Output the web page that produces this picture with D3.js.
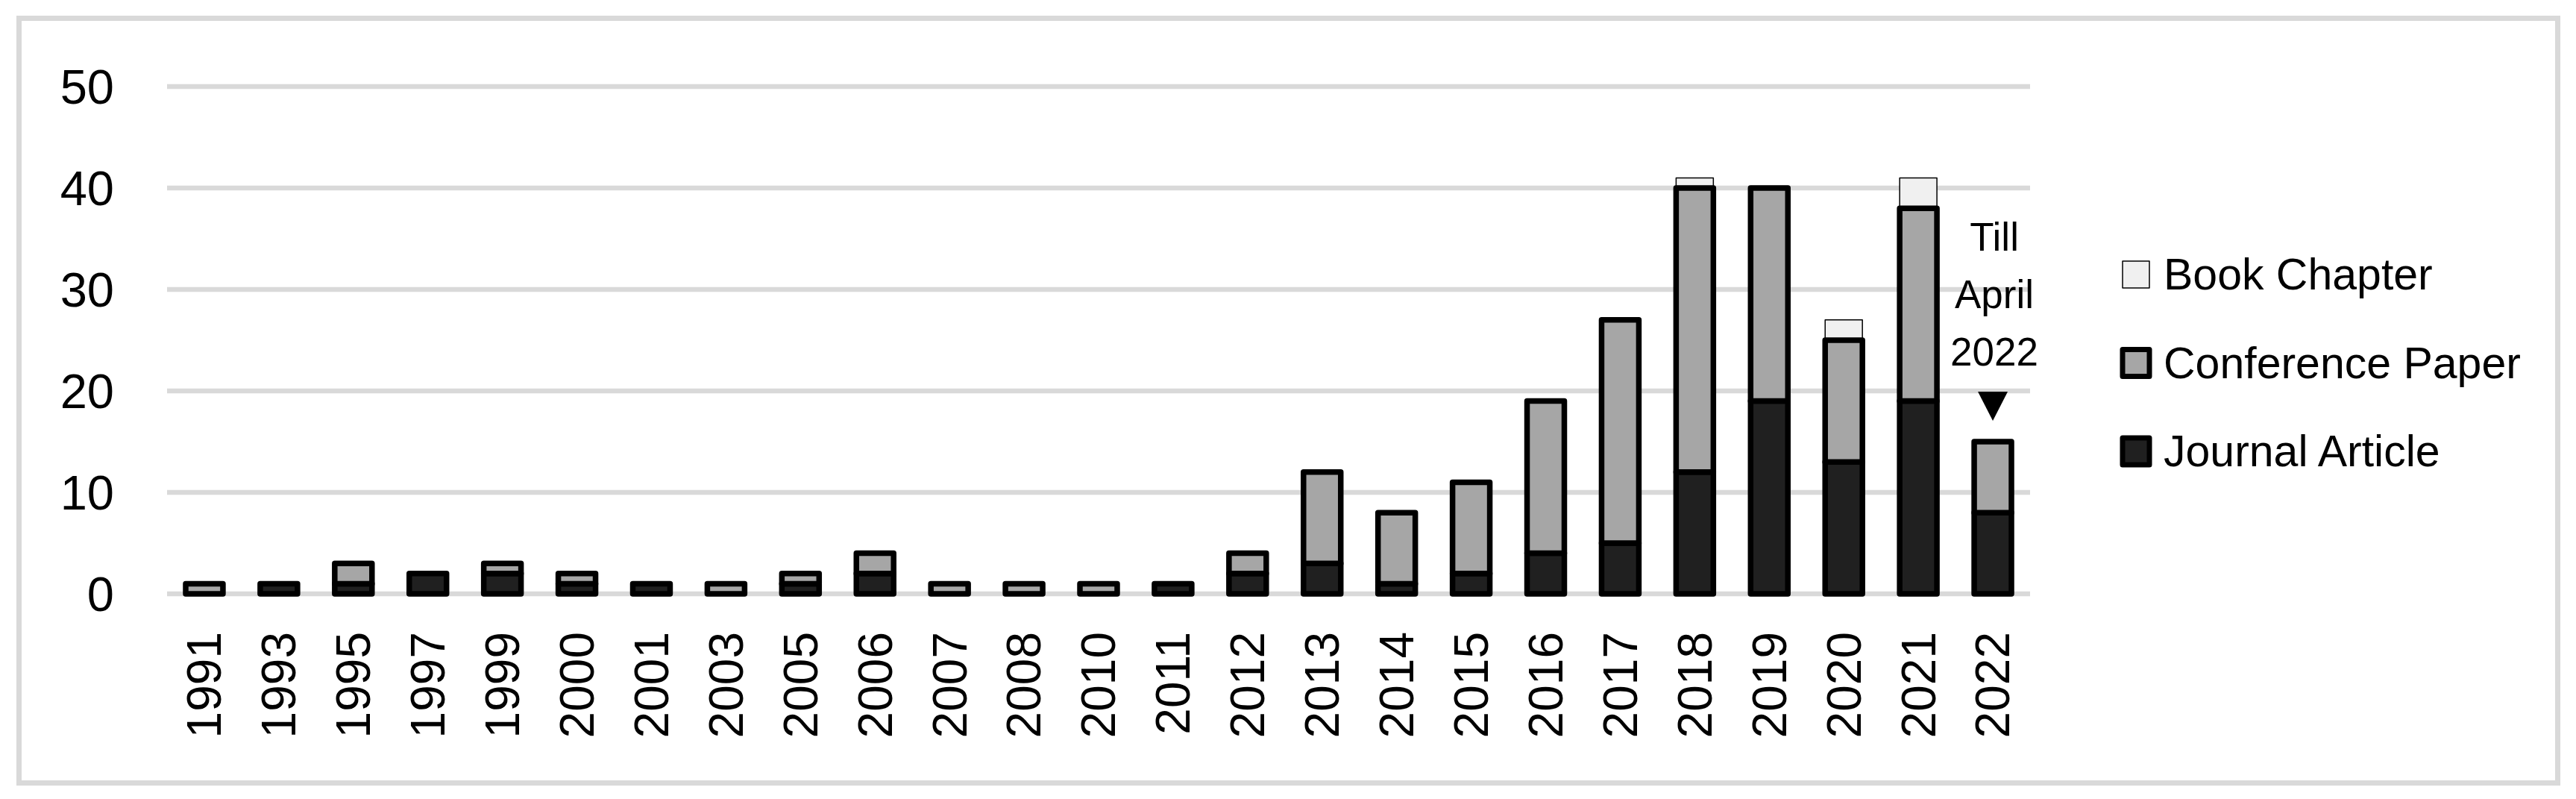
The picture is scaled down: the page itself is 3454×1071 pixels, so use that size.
<!DOCTYPE html>
<html>
<head>
<meta charset="utf-8">
<script src="https://cdn.jsdelivr.net/npm/d3@7"></script>
<style>
  body { margin: 0; background: #fff; }
  text { font-family: "Liberation Sans", Arial, sans-serif; fill: #000; }
</style>
</head>
<body>
<div id="chart"></div>
<script>
var years = ["1991","1993","1995","1997","1999","2000","2001","2003","2005","2006","2007","2008","2010","2011","2012","2013","2014","2015","2016","2017","2018","2019","2020","2021","2022"];
var journal    = [0,1,1,2,2,1,1,0,1,2,0,0,0,1,2,3,1,2,4,5,12,19,13,19,8];
var conference = [1,0,2,0,1,1,0,1,1,2,1,1,1,0,2,9,7,9,15,22,28,21,12,19,7];
var book       = [0,0,0,0,0,0,0,0,0,0,0,0,0,0,0,0,0,0,0,0,1,0,2,3,0];
var seriesNames = ["Journal Article","Conference Paper","Book Chapter"];
var yTicks = [0,10,20,30,40,50];
var noteLines = ["Till","April","2022"];

(function () {
var width = 3454, height = 1071;

var svg = d3.select("#chart")
.append("svg")
.attr("width", width)
.attr("height", height)

// outer frame
svg.append("rect")
.attr("x", 25.5).attr("y", 24.5)
.attr("width", 3404).attr("height", 1025)
.attr("fill", "none")
.attr("stroke", "#d9d9d9")
.attr("stroke-width", 7)

var x = d3.scaleBand().domain(years).range([224, 2722]).paddingInner(0.5).paddingOuter(0.25)
var y = d3.scaleLinear().domain([0, 50]).range([796, 116])

// gridlines
svg.selectAll(".grid")
.data(yTicks)
.enter().append("line")
.attr("class", "grid")
.attr("x1", 224).attr("x2", 2722)
.attr("y1", function(d){ return y(d) })
.attr("y2", function(d){ return y(d) })
.attr("stroke", "#d9d9d9")
.attr("stroke-width", 6.5)

svg.selectAll(".ylab")
.data(yTicks)
.enter().append("text")
.attr("class", "ylab")
.attr("x", 153)
.attr("y", function(d){ return y(d) })
.attr("dy", "0.35em")
.attr("text-anchor", "end")
.attr("font-size", 65)
.text(function(d){ return d })

var rows = years.map(function(yr, i){
	return { year: yr, "Journal Article": journal[i], "Conference Paper": conference[i], "Book Chapter": book[i] }
})
var stacked = d3.stack().keys(seriesNames)(rows)

var fills = { "Journal Article": "#202020", "Conference Paper": "#a6a6a6", "Book Chapter": "#f0f0f0" }
var strokes = { "Journal Article": 7.5, "Conference Paper": 7.5, "Book Chapter": 1.5 }

// draw book chapter first so the thick borders sit on top
var order = [stacked[2], stacked[0], stacked[1]]

svg.selectAll(".series")
.data(order)
.enter().append("g")
.attr("class", "series")
.each(function(s){
	d3.select(this).selectAll("rect")
	.data(s.filter(function(d){ return d[1] - d[0] > 0 }))
	.enter().append("rect")
	.attr("x", function(d){ return x(d.data.year) })
	.attr("width", x.bandwidth())
	.attr("y", function(d){ return y(d[1]) })
	.attr("height", function(d){ return y(d[0]) - y(d[1]) })
	.attr("fill", fills[s.key])
	.attr("stroke", "#000")
	.attr("stroke-width", strokes[s.key])
	.attr("stroke-linejoin", "round")
})

// x labels, rotated
svg.selectAll(".xlab")
.data(years)
.enter().append("text")
.attr("class", "xlab")
.attr("transform", function(d){ return "translate(" + (x(d) + x.bandwidth()/2) + ",847) rotate(-90)" })
.attr("dy", "0.35em")
.attr("text-anchor", "end")
.attr("font-size", 64)
.text(function(d){ return d })

// "Till April 2022" note above last bar
var last = years[years.length - 1]
var lastTop = y(journal[journal.length-1] + conference[conference.length-1] + book[book.length-1])
var cx = x(last) + x.bandwidth()/2
svg.selectAll(".note")
.data(noteLines)
.enter().append("text")
.attr("class", "note")
.attr("x", cx + 2)
.attr("y", function(d, i){ return lastTop - 256 + i*77 })
.attr("text-anchor", "middle")
.attr("font-size", 53)
.text(function(d){ return d })

svg.append("path")
.attr("d", "M" + (cx - 20) + "," + (lastTop - 67) + "L" + (cx + 20) + "," + (lastTop - 67) + "L" + cx + "," + (lastTop - 28) + "Z")
.attr("fill", "#000")

// legend
var legendItems = ["Book Chapter", "Conference Paper", "Journal Article"]
var legend = svg.selectAll(".legend")
.data(legendItems)
.enter().append("g")
.attr("class", "legend")
.attr("transform", function(d, i){ return "translate(2846," + (368 + i*118.5) + ")" })

legend.append("rect")
.attr("x", 0).attr("y", -18)
.attr("width", 36).attr("height", 36)
.attr("fill", function(d){ return fills[d] })
.attr("stroke", "#000")
.attr("stroke-width", function(d){ return d === "Book Chapter" ? 1.5 : 7 })
.attr("stroke-linejoin", "round")

legend.append("text")
.attr("x", 55)
.attr("y", 20)
.attr("font-size", 59)
.text(function(d){ return d })

})();
</script>
</body>
</html>
